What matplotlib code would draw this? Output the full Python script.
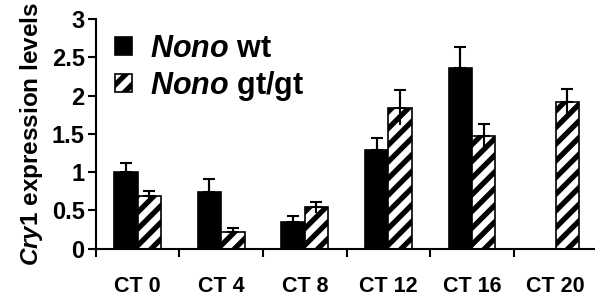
import matplotlib
matplotlib.use('Agg')
import matplotlib.pyplot as plt
import numpy as np

categories = ['CT 0', 'CT 4', 'CT 8', 'CT 12', 'CT 16', 'CT 20']
wt_mean = [1.0, 0.74, 0.35, 1.29, 2.36, 0.0]
wt_err = [0.12, 0.17, 0.08, 0.16, 0.27, 0.0]
gt_mean = [0.69, 0.22, 0.54, 1.84, 1.47, 1.92]
gt_err = [0.07, 0.05, 0.07, 0.23, 0.16, 0.17]
wt_label = r'$\mathit{Nono}$ wt'
gt_label = r'$\mathit{Nono}$ gt/gt'

plt.rcParams['font.family'] = 'Liberation Sans'
plt.rcParams['font.weight'] = 'bold'
plt.rcParams['mathtext.fontset'] = 'custom'
plt.rcParams['mathtext.it'] = 'Liberation Sans:italic:bold'
plt.rcParams['mathtext.rm'] = 'Liberation Sans:bold'
plt.rcParams['hatch.linewidth'] = 3.8

fig = plt.figure(figsize=(5.95, 3.04), dpi=100)
ax = fig.add_axes([0.161, 0.182, 0.843, 0.755])

x = np.arange(len(categories))
w = 0.28
ax.bar(x - w / 2, wt_mean, w, color='black', edgecolor='black', linewidth=1.2, label=wt_label)
ax.bar(x + w / 2, gt_mean, w, color='white', edgecolor='black', hatch='//', linewidth=1.2, label=gt_label)

wt_m = np.array(wt_mean)
mask = wt_m > 0
# symmetric whisker line, cap only on top
ax.errorbar(x[mask] - w / 2, wt_m[mask], yerr=np.array(wt_err)[mask],
            fmt='none', ecolor='black', elinewidth=1.5, capsize=0)
ax.errorbar(x[mask] - w / 2, wt_m[mask], yerr=[np.zeros(mask.sum()), np.array(wt_err)[mask]],
            fmt='none', ecolor='black', elinewidth=1.5, capsize=4, capthick=1.5)
ax.errorbar(x + w / 2, gt_mean, yerr=gt_err,
            fmt='none', ecolor='black', elinewidth=1.5, capsize=0)
ax.errorbar(x + w / 2, gt_mean, yerr=[np.zeros(len(x)), gt_err],
            fmt='none', ecolor='black', elinewidth=1.5, capsize=4, capthick=1.5)

ax.set_xlim(-0.5, 5.5)
ax.set_ylim(0, 3)
ax.set_yticks([0, 0.5, 1, 1.5, 2, 2.5, 3])
ax.set_yticklabels(['0', '0.5', '1', '1.5', '2', '2.5', '3'], fontsize=17, fontweight='bold')
ax.set_xticks(np.arange(-0.5, 6, 1))
ax.set_xticklabels([])
ax.set_xticks(x, minor=True)
ax.set_xticklabels(categories, minor=True, fontsize=15.5, fontweight='bold')
ax.tick_params(axis='x', which='minor', length=0, pad=20)
ax.tick_params(axis='x', which='major', direction='out', length=6, width=1.5)
ax.tick_params(axis='y', direction='out', length=6, width=1.5, pad=2)

for s in ['top', 'right']:
    ax.spines[s].set_visible(False)
for s in ['left', 'bottom']:
    ax.spines[s].set_linewidth(1.5)

ax.set_ylabel(r'$\mathit{Cry1}$ expression levels', fontsize=17.5, fontweight='bold', labelpad=5)

leg = ax.legend(loc='upper left', bbox_to_anchor=(0.038, 0.935), frameon=False, fontsize=22,
                borderpad=0, borderaxespad=0,
                handlelength=0.55, handleheight=0.55, handletextpad=0.6, labelspacing=0.15)

fig.savefig('out.png', dpi=100)
